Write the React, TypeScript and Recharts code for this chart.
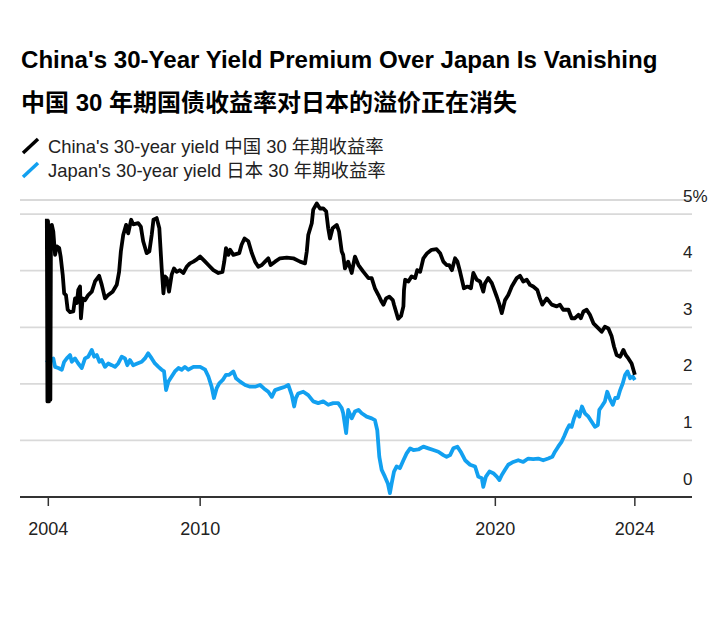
import React from 'react';
import { LineChart, Line, XAxis, YAxis, CartesianGrid } from 'recharts';

// decimal-year positions and yields
const chinaDates = [
  2004.95, 2004.97, 2004.99, 2005.02, 2005.04, 2005.07, 2005.09, 2005.12, 2005.17, 2005.23,
  2005.29, 2005.37, 2005.42, 2005.49, 2005.54, 2005.6, 2005.66, 2005.74, 2005.85, 2005.91,
  2005.97, 2006.02, 2006.08, 2006.11, 2006.17, 2006.25, 2006.36, 2006.48, 2006.59, 2006.73,
  2006.82, 2006.93, 2007.04, 2007.19, 2007.33, 2007.41, 2007.47, 2007.55, 2007.65, 2007.72,
  2007.82, 2007.89, 2008.06, 2008.15, 2008.23, 2008.35, 2008.44, 2008.52, 2008.58, 2008.69,
  2008.78, 2008.86, 2008.92, 2008.97, 2009.03, 2009.11, 2009.2, 2009.28, 2009.37, 2009.48,
  2009.6, 2009.71, 2009.82, 2009.94, 2010.03, 2010.17, 2010.34, 2010.45, 2010.62, 2010.79,
  2010.93, 2010.99, 2011.05, 2011.13, 2011.19, 2011.3, 2011.5, 2011.58, 2011.68, 2011.81,
  2011.93, 2012.04, 2012.15, 2012.27, 2012.38, 2012.49, 2012.57, 2012.72, 2012.89, 2013.12,
  2013.34, 2013.57, 2013.74, 2013.8, 2013.85, 2013.97, 2014.02, 2014.14, 2014.25, 2014.36,
  2014.46, 2014.53, 2014.59, 2014.68, 2014.82, 2014.9, 2014.99, 2015.04, 2015.1, 2015.21,
  2015.33, 2015.44, 2015.56, 2015.73, 2015.9, 2016.01, 2016.12, 2016.24, 2016.35, 2016.41,
  2016.5, 2016.61, 2016.73, 2016.77, 2016.91, 2017.01, 2017.09, 2017.11, 2017.15, 2017.26,
  2017.37, 2017.49, 2017.56, 2017.66, 2017.77, 2017.9, 2018.05, 2018.22, 2018.34, 2018.45,
  2018.56, 2018.65, 2018.74, 2018.85, 2018.93, 2019.02, 2019.15, 2019.27, 2019.39, 2019.47,
  2019.59, 2019.7, 2019.81, 2019.87, 2019.98, 2020.1, 2020.27, 2020.36, 2020.44, 2020.55,
  2020.66, 2020.78, 2020.95, 2021.06, 2021.17, 2021.29, 2021.4, 2021.51, 2021.65, 2021.74,
  2021.82, 2021.97, 2022.14, 2022.31, 2022.42, 2022.53, 2022.71, 2022.82, 2022.93, 2023.05,
  2023.13, 2023.22, 2023.33, 2023.44, 2023.56, 2023.73, 2023.84, 2023.95, 2024.07, 2024.18,
  2024.26, 2024.35, 2024.47, 2024.58, 2024.66, 2024.75, 2024.86, 2024.97,
];
const chinaYield = [
  4.92, 1.69, 4.88, 1.69, 4.8, 1.72, 4.72, 4.81, 4.69, 4.28,
  4.43, 4.4, 4.25, 3.93, 3.6, 3.57, 3.31, 3.27, 3.28, 3.51,
  3.43, 3.66, 3.72, 3.16, 3.51, 3.48, 3.57, 3.63, 3.81, 3.91,
  3.75, 3.51, 3.57, 3.63, 3.75, 3.98, 4.34, 4.63, 4.81, 4.66,
  4.9, 4.82, 4.84, 4.78, 4.52, 4.31, 4.34, 4.63, 4.9, 4.93,
  4.75, 4.04, 3.6, 3.9, 3.87, 3.63, 3.93, 4.04, 3.98, 4.01,
  3.96, 4.07, 4.13, 4.16, 4.19, 4.25, 4.16, 4.1, 4.01, 3.96,
  3.98, 4.16, 4.4, 4.28, 4.37, 4.28, 4.31, 4.46, 4.57, 4.52,
  4.31, 4.16, 4.07, 4.1, 4.16, 4.22, 4.1, 4.16, 4.22, 4.23,
  4.22, 4.16, 4.13, 4.34, 4.63, 4.84, 5.08, 5.19, 5.1, 5.1,
  5.05, 4.75, 4.57, 4.75, 4.81, 4.69, 4.34, 4.28, 4.04, 4.16,
  3.96, 4.25, 4.1, 3.98, 3.87, 3.87, 3.69, 3.57, 3.45, 3.4,
  3.51, 3.54, 3.48, 3.4, 3.15, 3.2, 3.37, 3.66, 3.84, 3.81,
  3.9, 3.87, 4.01, 3.98, 4.22, 4.31, 4.37, 4.38, 4.31, 4.16,
  4.1, 4.1, 4.01, 4.22, 4.16, 3.98, 3.69, 3.72, 3.69, 3.96,
  3.84, 3.81, 3.63, 3.78, 3.87, 3.78, 3.54, 3.4, 3.25, 3.48,
  3.57, 3.72, 3.87, 3.91, 3.81, 3.84, 3.75, 3.72, 3.66, 3.51,
  3.4, 3.51, 3.4, 3.37, 3.4, 3.31, 3.31, 3.16, 3.16, 3.22,
  3.16, 3.28, 3.31, 3.22, 3.07, 2.98, 2.92, 3.01, 2.98, 2.84,
  2.66, 2.51, 2.48, 2.6, 2.51, 2.45, 2.36, 2.16,
];

const japanDates = [
  2004.92, 2005.03, 2005.17, 2005.23, 2005.34, 2005.46, 2005.54, 2005.63, 2005.74, 2005.8,
  2005.91, 2006.02, 2006.14, 2006.25, 2006.36, 2006.48, 2006.56, 2006.65, 2006.74, 2006.82,
  2006.93, 2007.04, 2007.16, 2007.27, 2007.38, 2007.5, 2007.61, 2007.69, 2007.78, 2007.89,
  2008.03, 2008.18, 2008.29, 2008.4, 2008.52, 2008.63, 2008.75, 2008.86, 2008.94, 2009.01,
  2009.09, 2009.2, 2009.31, 2009.43, 2009.54, 2009.65, 2009.77, 2009.94, 2010.17, 2010.34,
  2010.45, 2010.56, 2010.64, 2010.73, 2010.82, 2010.94, 2011.05, 2011.16, 2011.3, 2011.39,
  2011.53, 2011.7, 2011.87, 2012.04, 2012.21, 2012.34, 2012.49, 2012.61, 2012.72, 2012.89,
  2013.06, 2013.17, 2013.29, 2013.37, 2013.43, 2013.51, 2013.68, 2013.85, 2014.02, 2014.19,
  2014.36, 2014.53, 2014.7, 2014.87, 2014.99, 2015.04, 2015.14, 2015.21, 2015.33, 2015.44,
  2015.56, 2015.67, 2015.84, 2016.01, 2016.12, 2016.2, 2016.27, 2016.35, 2016.46, 2016.56,
  2016.63, 2016.69, 2016.77, 2016.86, 2016.97, 2017.09, 2017.2, 2017.32, 2017.43, 2017.6,
  2017.77, 2017.94, 2018.11, 2018.28, 2018.45, 2018.56, 2018.68, 2018.79, 2018.93, 2019.04,
  2019.19, 2019.36, 2019.53, 2019.64, 2019.76, 2019.81, 2019.9, 2020.02, 2020.15, 2020.27,
  2020.36, 2020.44, 2020.55, 2020.66, 2020.83, 2021.0, 2021.17, 2021.34, 2021.51, 2021.68,
  2021.85, 2022.02, 2022.16, 2022.25, 2022.36, 2022.48, 2022.56, 2022.65, 2022.74, 2022.82,
  2022.9, 2022.99, 2023.08, 2023.17, 2023.27, 2023.39, 2023.5, 2023.61, 2023.71, 2023.76,
  2023.84, 2023.95, 2024.03, 2024.13, 2024.22, 2024.3, 2024.39, 2024.47, 2024.56, 2024.64,
  2024.72, 2024.81, 2024.9, 2024.97,
];
const japanYield = [
  2.42, 2.39, 2.45, 2.3, 2.28, 2.25, 2.39, 2.45, 2.51, 2.39,
  2.45, 2.36, 2.28, 2.45, 2.48, 2.6, 2.48, 2.51, 2.39, 2.42,
  2.3, 2.36, 2.33, 2.3, 2.36, 2.48, 2.45, 2.33, 2.42, 2.33,
  2.36, 2.39, 2.45, 2.54, 2.45, 2.36, 2.3, 2.25, 2.22, 1.89,
  2.04, 2.13, 2.22, 2.28, 2.25, 2.3, 2.25, 2.3, 2.3, 2.25,
  2.13, 1.95, 1.75, 1.92, 2.01, 2.07, 2.16, 2.16, 2.22, 2.1,
  2.04, 1.98, 1.95, 1.95, 1.98, 1.92, 1.86, 1.77, 1.89, 1.92,
  1.95, 1.98, 1.8, 1.6, 1.75, 1.83, 1.86, 1.8, 1.69, 1.66,
  1.69, 1.63, 1.66, 1.66, 1.57, 1.48, 1.13, 1.54, 1.39, 1.51,
  1.54, 1.48, 1.42, 1.39, 1.36, 1.18, 0.71, 0.48, 0.36, 0.24,
  0.07, 0.24, 0.45, 0.54, 0.51, 0.65, 0.77, 0.86, 0.83, 0.84,
  0.89, 0.86, 0.83, 0.8, 0.74, 0.71, 0.74, 0.86, 0.89, 0.8,
  0.65, 0.57, 0.54, 0.36, 0.33, 0.18, 0.36, 0.45, 0.42, 0.36,
  0.3, 0.39, 0.48, 0.57, 0.62, 0.65, 0.62, 0.68, 0.67, 0.68,
  0.65, 0.68, 0.71, 0.8, 0.89, 0.98, 1.07, 1.18, 1.27, 1.24,
  1.39, 1.51, 1.42, 1.6, 1.48, 1.42, 1.33, 1.24, 1.27, 1.54,
  1.6, 1.69, 1.86, 1.72, 1.63, 1.75, 1.75, 1.89, 2.01, 2.16,
  2.22, 2.1, 2.13, 2.07,
];

const xTickValues = [2005.0, 2010.17, 2020.22, 2024.97];
const xTickLabels = ['2004', '2010', '2020', '2024'];
const yTicks = [0, 1, 2, 3, 4, 5];

const chinaData = chinaDates.map((t, i) => ({ t, v: chinaYield[i] }));
const japanData = japanDates.map((t, i) => ({ t, v: japanYield[i] }));

const FONT = "'Liberation Sans', 'Noto Sans CJK SC', Arial, sans-serif";
const BLUE = '#12a0f0';

const XTick = (props: any) => {
  const { x, y, payload } = props;
  const idx = xTickValues.indexOf(payload.value);
  return (
    <text x={x} y={y} dy={29} textAnchor="middle" fontSize={18} fill="#222" fontFamily={FONT}>
      {xTickLabels[idx] ?? ''}
    </text>
  );
};

const YTick = (props: any) => {
  const { y, payload } = props;
  return (
    <text x={683} y={y - 12.5} textAnchor="start" fontSize={17} fill="#222" fontFamily={FONT}>
      {payload.value === 5 ? '5%' : payload.value}
    </text>
  );
};

export default function App() {
  return (
    <div style={{ position: 'absolute', left: 0, top: 0, width: 716, height: 634, background: '#fff' }}>
      <svg width={716} height={200} style={{ position: 'absolute', left: 0, top: 0 }}>
        <text x={21} y={68} fontSize={24.1} fontWeight="bold" fill="#000" fontFamily={FONT}>
          China's 30-Year Yield Premium Over Japan Is Vanishing
        </text>
        <text x={21} y={111} fontSize={24} fontWeight="bold" fill="#000" fontFamily={FONT}>
          中国 30 年期国债收益率对日本的溢价正在消失
        </text>
        <line x1={23} y1={153} x2={38} y2={139} stroke="#000" strokeWidth={3.5} />
        <text x={48} y={153} fontSize={18.4} fill="#222" fontFamily={FONT}>
          China's 30-year yield 中国 30 年期收益率
        </text>
        <line x1={23} y1={177} x2={38} y2={163} stroke={BLUE} strokeWidth={3.5} />
        <text x={48} y={177} fontSize={18.4} fill="#222" fontFamily={FONT}>
          Japan's 30-year yield 日本 30 年期收益率
        </text>
      </svg>
      <div style={{ position: 'absolute', left: 0, top: 0 }}>
        <LineChart width={716} height={634} margin={{ top: 200, right: 0, bottom: 97, left: 20 }}>
          <CartesianGrid vertical={false} stroke="#d9d9d9" strokeWidth={1.8} />
          <XAxis
            dataKey="t"
            type="number"
            domain={[2004.036, 2026.916]}
            ticks={xTickValues}
            allowDataOverflow
            height={40}
            axisLine={{ stroke: '#333', strokeWidth: 2 }}
            tickLine={{ stroke: '#333', strokeWidth: 1.5 }}
            tickSize={9}
            tickMargin={0}
            tick={<XTick />}
          />
          <YAxis
            orientation="right"
            width={24}
            domain={[0, 5.25]}
            ticks={yTicks}
            axisLine={false}
            tickLine={false}
            tick={<YTick />}
          />
          <Line data={japanData} dataKey="v" stroke={BLUE} strokeWidth={3.8} dot={false} isAnimationActive={false} strokeLinejoin="round" />
          <Line data={chinaData} dataKey="v" stroke="#000" strokeWidth={3.8} dot={false} isAnimationActive={false} strokeLinejoin="round" />
        </LineChart>
      </div>
    </div>
  );
}
